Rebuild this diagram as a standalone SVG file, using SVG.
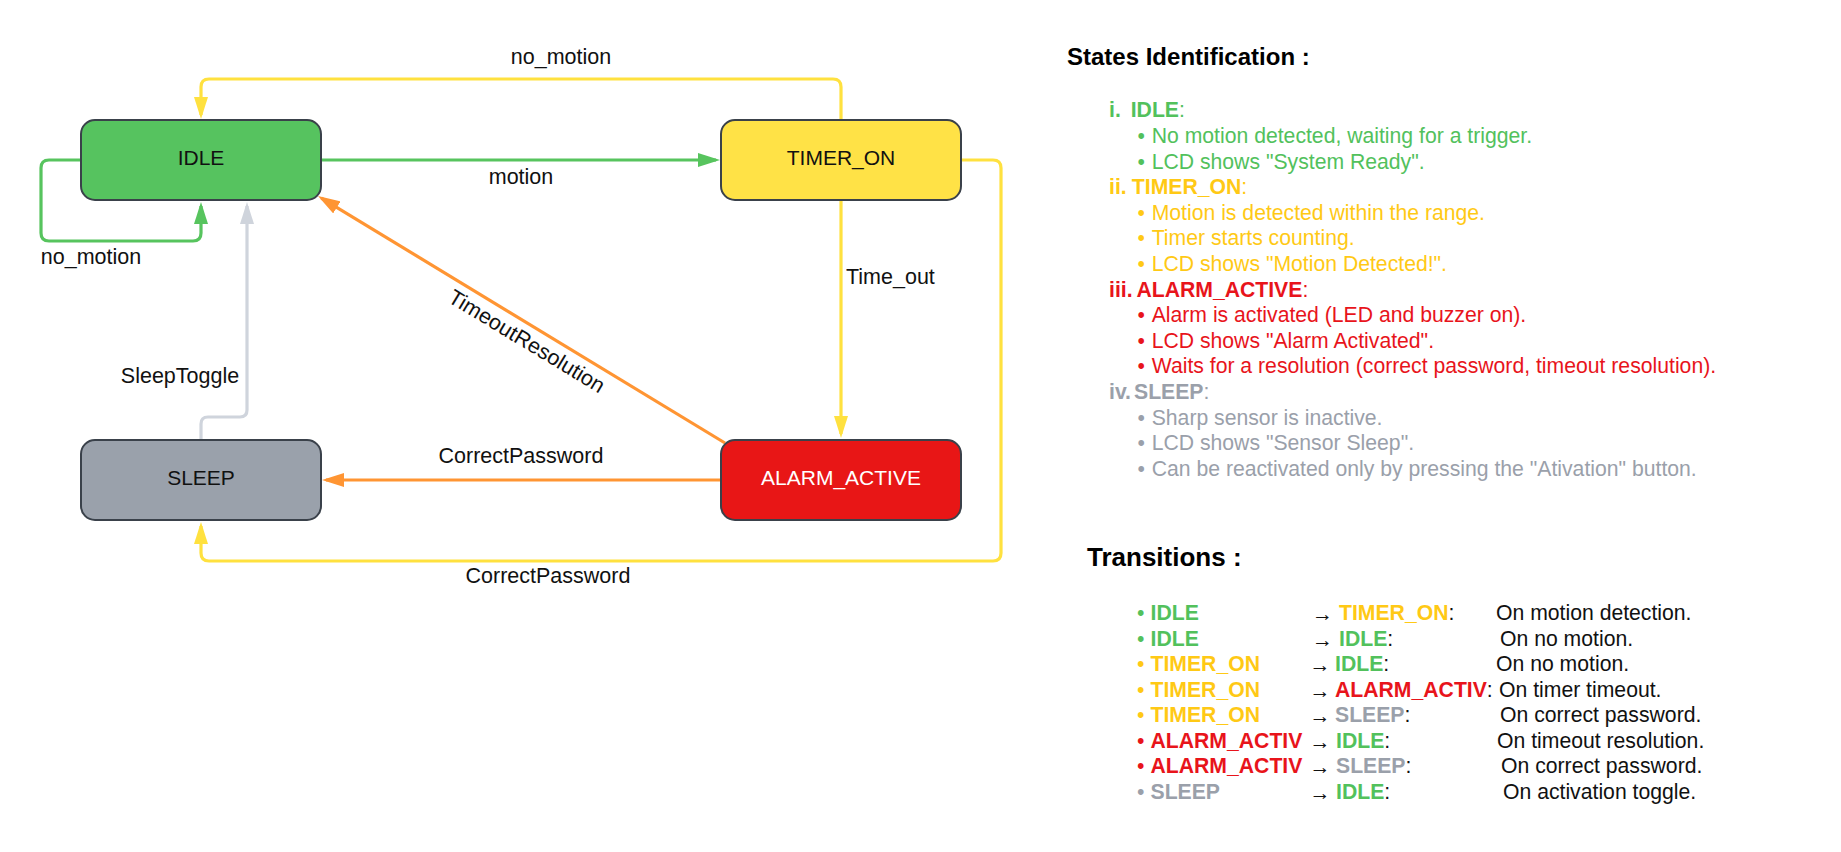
<svg xmlns="http://www.w3.org/2000/svg" width="1841" height="852" viewBox="0 0 1841 852">
<style>
text{font-family:"Liberation Sans",Arial,sans-serif;}
.node{stroke:#3a414a;stroke-width:2;}
.nt{font-size:21px;text-anchor:middle;fill:#111;}
.lbl{font-size:21.5px;fill:#111;}
.c{fill:none;stroke-width:3.2;stroke-linejoin:round;}
.g{stroke:#57c45e;} .y{stroke:#ffe13f;} .o{stroke:#ff9533;} .s{stroke:#cfd4dc;}
.h{font-size:24px;font-weight:bold;fill:#000;}
.t{font-size:21.2px;}
.b{font-weight:bold;}
.cg{fill:#52c15c;} .cy{fill:#ffc915;} .cr{fill:#e8141b;} .cs{fill:#9aa0aa;} .ck{fill:#111;}
.ar{font-size:21px;fill:#111;}
</style>
<defs>
<marker id="mg" markerUnits="userSpaceOnUse" markerWidth="22" markerHeight="14" refX="18" refY="7" orient="auto"><path d="M0,0 L22,7 L0,14 z" fill="#57c45e"/></marker>
<marker id="my" markerUnits="userSpaceOnUse" markerWidth="22" markerHeight="14" refX="18" refY="7" orient="auto"><path d="M0,0 L22,7 L0,14 z" fill="#ffe13f"/></marker>
<marker id="mo" markerUnits="userSpaceOnUse" markerWidth="22" markerHeight="14" refX="18" refY="7" orient="auto"><path d="M0,0 L22,7 L0,14 z" fill="#ff9533"/></marker>
<marker id="ms" markerUnits="userSpaceOnUse" markerWidth="22" markerHeight="14" refX="18" refY="7" orient="auto"><path d="M0,0 L22,7 L0,14 z" fill="#cfd4dc"/></marker>
</defs>
<rect width="1841" height="852" fill="#fff"/>

<g id="connectors">
<path class="c g" d="M320,160 H716" marker-end="url(#mg)"/>
<path class="c y" d="M841,120 V87 Q841,79 833,79 H209 Q201,79 201,87 V115" marker-end="url(#my)"/>
<path class="c g" d="M81,160 H49 Q41,160 41,168 V233 Q41,241 49,241 H193 Q201,241 201,233 V206" marker-end="url(#mg)"/>
<path class="c s" d="M201,440 V424 Q201,417 208,417 H240 Q247,417 247,410 V206" marker-end="url(#ms)"/>
<path class="c y" d="M841,200 V434" marker-end="url(#my)"/>
<path class="c y" d="M961,160 H993 Q1001,160 1001,168 V553 Q1001,561 993,561 H209 Q201,561 201,553 V526" marker-end="url(#my)"/>
<path class="c o" d="M721,480 H326" marker-end="url(#mo)"/>
<path class="c o" d="M725,443 L321.4,198.1" marker-end="url(#mo)"/>
<text class="lbl" x="561" y="64" text-anchor="middle">no_motion</text>
<text class="lbl" x="521" y="184" text-anchor="middle">motion</text>
<text class="lbl" x="91" y="264" text-anchor="middle">no_motion</text>
<text class="lbl" x="180" y="383" text-anchor="middle">SleepToggle</text>
<text class="lbl" x="846" y="284">Time_out</text>
<text class="lbl" x="523" y="347.4" text-anchor="middle" transform="rotate(31.2 523 347.4)">TimeoutResolution</text>
<text class="lbl" x="521" y="463" text-anchor="middle">CorrectPassword</text>
<text class="lbl" x="548" y="583" text-anchor="middle">CorrectPassword</text>
</g>

<g id="node-idle">
<rect class="node" x="81" y="120" width="240" height="80" rx="14" fill="#56c35f"/>
<text class="nt" x="201" y="164.5">IDLE</text>
</g>
<g id="node-timer-on">
<rect class="node" x="721" y="120" width="240" height="80" rx="14" fill="#ffe246"/>
<text class="nt" x="841" y="164.5">TIMER_ON</text>
</g>
<g id="node-sleep">
<rect class="node" x="81" y="440" width="240" height="80" rx="14" fill="#9aa1ab"/>
<text class="nt" x="201" y="484.5">SLEEP</text>
</g>
<g id="node-alarm-active">
<rect class="node" x="721" y="440" width="240" height="80" rx="14" fill="#e81616"/>
<text class="nt" x="841" y="484.5" style="fill:#fff">ALARM_ACTIVE</text>
</g>

<g id="states-identification">
<text class="h" x="1067" y="65">States Identification :</text>
<text class="t cg" x="1109" y="117.3"><tspan class="b">i.</tspan><tspan class="b" x="1130.7">IDLE</tspan>:</text>
<text class="t cg" x="1137.6" y="142.9">•</text><text class="t cg" x="1151.7" y="142.9">No motion detected, waiting for a trigger.</text>
<text class="t cg" x="1137.6" y="168.5">•</text><text class="t cg" x="1151.7" y="168.5">LCD shows "System Ready".</text>
<text class="t cy" x="1109" y="194.1"><tspan class="b">ii.</tspan><tspan class="b" x="1131.8">TIMER_ON</tspan>:</text>
<text class="t cy" x="1137.6" y="219.7">•</text><text class="t cy" x="1151.7" y="219.7">Motion is detected within the range.</text>
<text class="t cy" x="1137.6" y="245.3">•</text><text class="t cy" x="1151.7" y="245.3">Timer starts counting.</text>
<text class="t cy" x="1137.6" y="270.9">•</text><text class="t cy" x="1151.7" y="270.9">LCD shows "Motion Detected!".</text>
<text class="t cr" x="1109" y="296.5"><tspan class="b">iii.</tspan><tspan class="b" x="1136.4">ALARM_ACTIVE</tspan>:</text>
<text class="t cr" x="1137.6" y="322.1">•</text><text class="t cr" x="1151.7" y="322.1">Alarm is activated (LED and buzzer on).</text>
<text class="t cr" x="1137.6" y="347.7">•</text><text class="t cr" x="1151.7" y="347.7">LCD shows "Alarm Activated".</text>
<text class="t cr" x="1137.6" y="373.3">•</text><text class="t cr" x="1151.7" y="373.3">Waits for a resolution (correct password, timeout resolution).</text>
<text class="t cs" x="1109" y="398.9"><tspan class="b">iv.</tspan><tspan class="b" x="1134">SLEEP</tspan>:</text>
<text class="t cs" x="1137.6" y="424.5">•</text><text class="t cs" x="1151.7" y="424.5">Sharp sensor is inactive.</text>
<text class="t cs" x="1137.6" y="450.1">•</text><text class="t cs" x="1151.7" y="450.1">LCD shows "Sensor Sleep".</text>
<text class="t cs" x="1137.6" y="475.7">•</text><text class="t cs" x="1151.7" y="475.7">Can be reactivated only by pressing the "Ativation" button.</text>
</g>

<g id="transitions">
<text class="h" x="1087" y="566" style="font-size:26px">Transitions :</text>
<text class="t cg" x="1137" y="620">•</text><text class="t b cg" x="1150.5" y="620">IDLE</text><text class="ar" x="1312" y="621">→</text><text class="t" x="1339" y="620"><tspan class="b cy">TIMER_ON</tspan><tspan class="ck">:</tspan></text><text class="t ck" x="1496" y="620">On motion detection.</text>
<text class="t cg" x="1137" y="645.5">•</text><text class="t b cg" x="1150.5" y="645.5">IDLE</text><text class="ar" x="1312" y="646.5">→</text><text class="t" x="1339" y="645.5"><tspan class="b cg">IDLE</tspan><tspan class="ck">:</tspan></text><text class="t ck" x="1500" y="645.5">On no motion.</text>
<text class="t cy" x="1137" y="671">•</text><text class="t b cy" x="1150.5" y="671">TIMER_ON</text><text class="ar" x="1309.5" y="672">→</text><text class="t" x="1335" y="671"><tspan class="b cg">IDLE</tspan><tspan class="ck">:</tspan></text><text class="t ck" x="1496" y="671">On no motion.</text>
<text class="t cy" x="1137" y="696.5">•</text><text class="t b cy" x="1150.5" y="696.5">TIMER_ON</text><text class="ar" x="1309.5" y="697.5">→</text><text class="t" x="1335" y="696.5"><tspan class="b cr">ALARM_ACTIV</tspan><tspan class="ck">:</tspan></text><text class="t ck" x="1499" y="696.5">On timer timeout.</text>
<text class="t cy" x="1137" y="722">•</text><text class="t b cy" x="1150.5" y="722">TIMER_ON</text><text class="ar" x="1309.5" y="723">→</text><text class="t" x="1335" y="722"><tspan class="b cs">SLEEP</tspan><tspan class="ck">:</tspan></text><text class="t ck" x="1500" y="722">On correct password.</text>
<text class="t cr" x="1137" y="747.5">•</text><text class="t b cr" x="1150.5" y="747.5">ALARM_ACTIV</text><text class="ar" x="1309.5" y="748.5">→</text><text class="t" x="1336" y="747.5"><tspan class="b cg">IDLE</tspan><tspan class="ck">:</tspan></text><text class="t ck" x="1497" y="747.5">On timeout resolution.</text>
<text class="t cr" x="1137" y="773">•</text><text class="t b cr" x="1150.5" y="773">ALARM_ACTIV</text><text class="ar" x="1309.5" y="774">→</text><text class="t" x="1336" y="773"><tspan class="b cs">SLEEP</tspan><tspan class="ck">:</tspan></text><text class="t ck" x="1501" y="773">On correct password.</text>
<text class="t cs" x="1137" y="798.5">•</text><text class="t b cs" x="1150.5" y="798.5">SLEEP</text><text class="ar" x="1309.5" y="799.5">→</text><text class="t" x="1336" y="798.5"><tspan class="b cg">IDLE</tspan><tspan class="ck">:</tspan></text><text class="t ck" x="1503" y="798.5">On activation toggle.</text>
</g>
</svg>
